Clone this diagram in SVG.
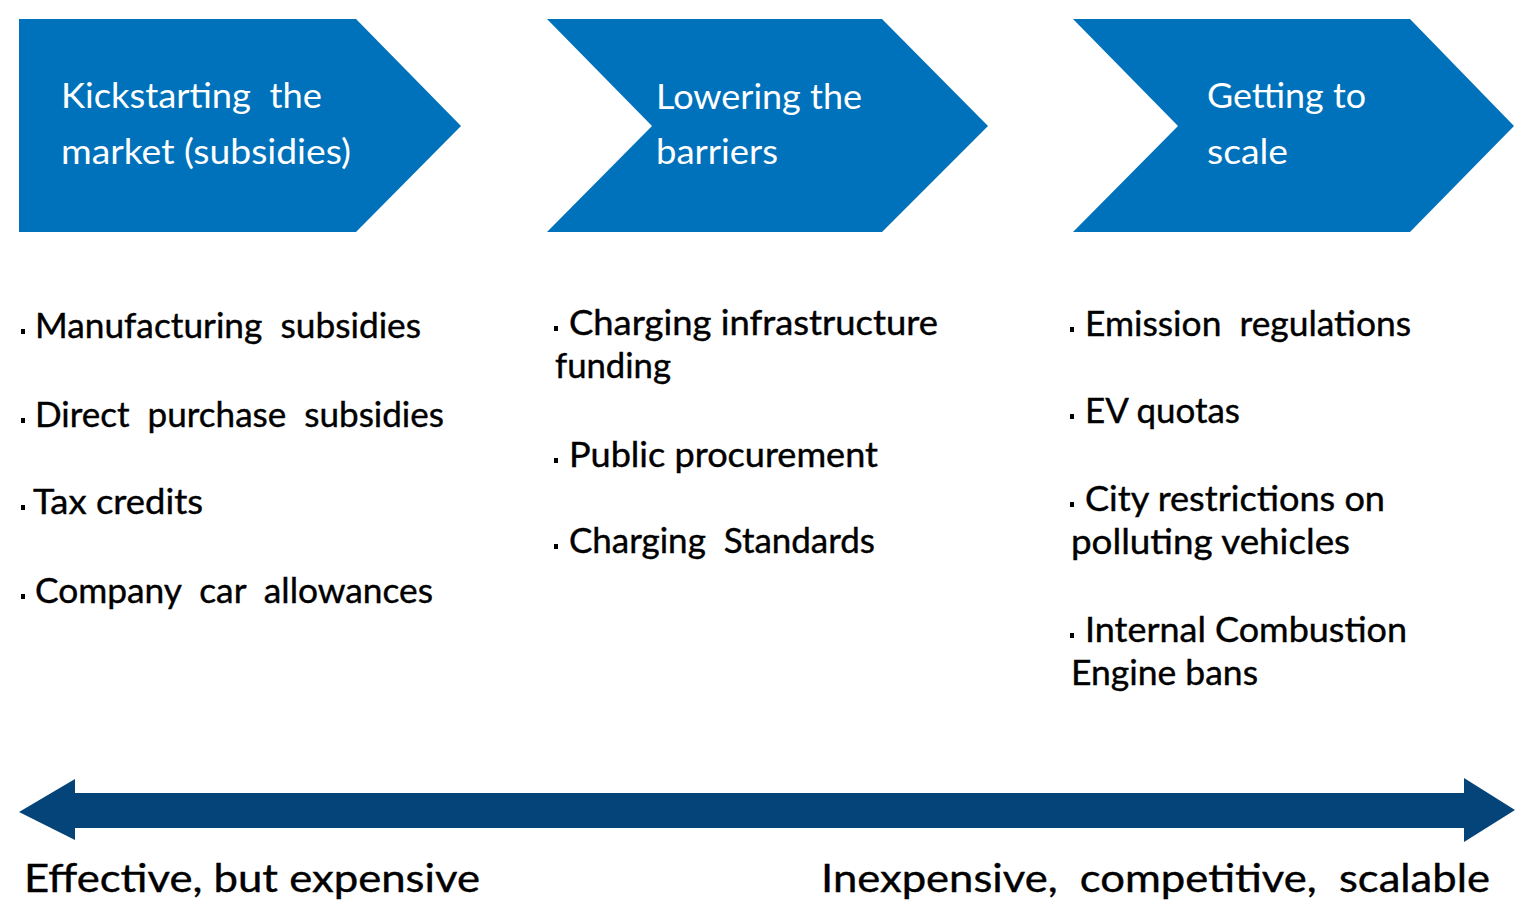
<svg xmlns="http://www.w3.org/2000/svg" width="1537" height="923" viewBox="0 0 1537 923">
<style>
.chev{fill:#0072bb}
.hd{font-family:Lato,"Open Sans",sans-serif;font-size:35px;fill:#ffffff;white-space:pre}
.it{font-family:Lato,"Open Sans",sans-serif;font-size:34px;fill:#000000;white-space:pre;stroke:#000000;stroke-width:0.4}
.ax{font-family:Lato,"Open Sans",sans-serif;font-size:38px;fill:#000000;white-space:pre;stroke:#000000;stroke-width:0.4}
.bul{fill:#000000}
.arr{fill:#044479}
</style>
<rect width="1537" height="923" fill="#ffffff"/>
<g id="stage1">
<polygon class="chev" points="19,19 356,19 461,126 356,232 19,232"/>
<text class="hd" x="61" y="108" textLength="261" lengthAdjust="spacingAndGlyphs">Kickstarting  the</text>
<text class="hd" x="61" y="164" textLength="290" lengthAdjust="spacingAndGlyphs">market (subsidies)</text>
</g>
<g id="stage2">
<polygon class="chev" points="547,19 882,19 988,126 882,232 547,232 652,126"/>
<text class="hd" x="656" y="109" textLength="206" lengthAdjust="spacingAndGlyphs">Lowering the</text>
<text class="hd" x="656" y="164" textLength="122" lengthAdjust="spacingAndGlyphs">barriers</text>
</g>
<g id="stage3">
<polygon class="chev" points="1073,19 1410,19 1514,126 1410,232 1073,232 1178,126"/>
<text class="hd" x="1207" y="108" textLength="159" lengthAdjust="spacingAndGlyphs">Getting to</text>
<text class="hd" x="1207" y="164" textLength="81" lengthAdjust="spacingAndGlyphs">scale</text>
</g>
<g id="list1">
<rect class="bul" x="21" y="329" width="4" height="5"/>
<text class="it" x="35" y="338" textLength="386" lengthAdjust="spacingAndGlyphs">Manufacturing  subsidies</text>
<rect class="bul" x="21" y="418" width="4" height="5"/>
<text class="it" x="35" y="427" textLength="409" lengthAdjust="spacingAndGlyphs">Direct  purchase  subsidies</text>
<rect class="bul" x="21" y="505" width="4" height="5"/>
<text class="it" x="33" y="514" textLength="170" lengthAdjust="spacingAndGlyphs">Tax credits</text>
<rect class="bul" x="21" y="594" width="4" height="5"/>
<text class="it" x="35" y="603" textLength="398" lengthAdjust="spacingAndGlyphs">Company  car  allowances</text>
</g>
<g id="list2">
<rect class="bul" x="554" y="326" width="4" height="5"/>
<text class="it" x="569" y="335" textLength="369" lengthAdjust="spacingAndGlyphs">Charging infrastructure</text>
<text class="it" x="555" y="378" textLength="116" lengthAdjust="spacingAndGlyphs">funding</text>
<rect class="bul" x="554" y="458" width="4" height="5"/>
<text class="it" x="569" y="467" textLength="309" lengthAdjust="spacingAndGlyphs">Public procurement</text>
<rect class="bul" x="554" y="544" width="4" height="5"/>
<text class="it" x="569" y="553" textLength="306" lengthAdjust="spacingAndGlyphs">Charging  Standards</text>
</g>
<g id="list3">
<rect class="bul" x="1070" y="327" width="4" height="5"/>
<text class="it" x="1085" y="336" textLength="326" lengthAdjust="spacingAndGlyphs">Emission  regulations</text>
<rect class="bul" x="1070" y="414" width="4" height="5"/>
<text class="it" x="1085" y="423" textLength="155" lengthAdjust="spacingAndGlyphs">EV quotas</text>
<rect class="bul" x="1070" y="502" width="4" height="5"/>
<text class="it" x="1085" y="511" textLength="300" lengthAdjust="spacingAndGlyphs">City restrictions on</text>
<text class="it" x="1071" y="554" textLength="279" lengthAdjust="spacingAndGlyphs">polluting vehicles</text>
<rect class="bul" x="1070" y="633" width="4" height="5"/>
<text class="it" x="1085" y="642" textLength="322" lengthAdjust="spacingAndGlyphs">Internal Combustion</text>
<text class="it" x="1071" y="685" textLength="187" lengthAdjust="spacingAndGlyphs">Engine bans</text>
</g>
<g id="connectors">
<polygon class="arr" points="19,812 75,779 75,793 1464,793 1464,778 1515,810 1464,842 1464,828 75,828 75,840"/>
</g>
<g id="axis-labels">
<text class="ax" x="24" y="892" textLength="456" lengthAdjust="spacingAndGlyphs">Effective, but expensive</text>
<text class="ax" x="821" y="892" textLength="669" lengthAdjust="spacingAndGlyphs">Inexpensive,  competitive,  scalable</text>
</g>
</svg>
